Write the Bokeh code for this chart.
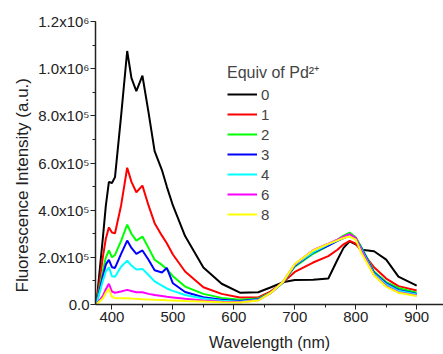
from bokeh.plotting import figure
from bokeh.models import SingleIntervalTicker, Legend, LegendItem, Range1d, Title
from bokeh.embed import file_html
from bokeh.resources import INLINE

wavelength = [375, 385, 390, 395, 400, 405, 415, 425, 432, 440, 450, 460, 470, 482, 490,
              500, 520, 550, 580, 610, 640, 660, 680, 700, 730, 755, 770, 780, 790, 800,
              810, 830, 850, 870, 900]

equiv_labels = ["0", "1", "2", "3", "4", "6", "8"]
colors = ["#000000", "#FF0000", "#00FF00", "#0000FF", "#00FFFF", "#FF00FF", "#FFFF00"]

eq0 = [15e3, 280e3, 420e3, 520e3, 515e3, 540e3, 800e3, 1075e3, 960e3, 905e3, 970e3, 815e3, 650e3, 570e3, 500e3,
       420e3, 290e3, 157e3, 88e3, 50e3, 52e3, 72e3, 94e3, 104e3, 105e3, 110e3, 190e3, 240e3, 268e3, 255e3,
       232e3, 226e3, 190e3, 118e3, 80e3]
eq1 = [10e3, 200e3, 280e3, 327e3, 305e3, 302e3, 420e3, 580e3, 520e3, 476e3, 504e3, 420e3, 345e3, 292e3, 260e3,
       212e3, 140e3, 73e3, 45e3, 30e3, 30e3, 55e3, 92e3, 138e3, 178e3, 205e3, 232e3, 255e3, 270e3, 258e3,
       225e3, 158e3, 110e3, 78e3, 59e3]
eq2 = [8e3, 140e3, 200e3, 229e3, 200e3, 210e3, 270e3, 339e3, 300e3, 271e3, 288e3, 240e3, 190e3, 168e3, 150e3,
       120e3, 76e3, 45e3, 28e3, 20e3, 25e3, 50e3, 92e3, 160e3, 215e3, 250e3, 275e3, 292e3, 305e3, 285e3,
       240e3, 140e3, 95e3, 70e3, 50e3]
eq3 = [7e3, 120e3, 170e3, 189e3, 158e3, 155e3, 215e3, 271e3, 240e3, 215e3, 229e3, 190e3, 145e3, 136e3, 155e3,
       90e3, 53e3, 31e3, 20e3, 15e3, 22e3, 48e3, 92e3, 165e3, 220e3, 250e3, 270e3, 282e3, 292e3, 280e3,
       235e3, 135e3, 90e3, 62e3, 45e3]
eq4 = [6e3, 100e3, 140e3, 158e3, 120e3, 118e3, 160e3, 186e3, 165e3, 148e3, 151e3, 125e3, 98e3, 80e3, 68e3,
       58e3, 40e3, 25e3, 16e3, 12e3, 20e3, 48e3, 92e3, 168e3, 222e3, 255e3, 272e3, 285e3, 295e3, 280e3,
       230e3, 130e3, 85e3, 58e3, 42e3]
eq6 = [3e3, 35e3, 65e3, 88e3, 55e3, 50e3, 55e3, 62e3, 57e3, 52e3, 52e3, 45e3, 40e3, 36e3, 33e3,
       30e3, 24e3, 17e3, 12e3, 10e3, 18e3, 48e3, 94e3, 170e3, 230e3, 258e3, 275e3, 288e3, 298e3, 282e3,
       225e3, 125e3, 78e3, 52e3, 38e3]
eq8 = [2e3, 25e3, 50e3, 66e3, 32e3, 28e3, 27e3, 27e3, 25e3, 24e3, 22e3, 21e3, 20e3, 19e3, 18e3,
       17e3, 15e3, 13e3, 10e3, 8e3, 17e3, 48e3, 94e3, 172e3, 229e3, 257e3, 272e3, 282e3, 288e3, 275e3,
       215e3, 123e3, 75e3, 50e3, 36e3]
series = [eq0, eq1, eq2, eq3, eq4, eq6, eq8]

y_ticks = [0, 200000, 400000, 600000, 800000, 1000000, 1200000]
y_tick_labels = ["0.0", "2.0x10\u2075", "4.0x10\u2075", "6.0x10\u2075", "8.0x10\u2075",
                 "1.0x10\u2076", "1.2x10\u2076"]

p = figure(frame_width=348, frame_height=283, output_backend="svg", toolbar_location=None,
           x_range=Range1d(373, 944), y_range=Range1d(0, 1.2e6),
           min_border_left=95, min_border_right=0, min_border_top=21, min_border_bottom=49)
p.outline_line_color = None
p.xgrid.visible = False
p.ygrid.visible = False
p.background_fill_color = "white"

items = []
for lab, col, ys in zip(equiv_labels, colors, series):
    r = p.line(wavelength, ys, line_color=col, line_width=2)
    items.append(LegendItem(label=lab, renderers=[r]))

p.xaxis.ticker = SingleIntervalTicker(interval=100, num_minor_ticks=2)
p.yaxis.ticker = SingleIntervalTicker(interval=200000, num_minor_ticks=2)
p.yaxis.major_label_overrides = {t: l for t, l in zip(y_ticks, y_tick_labels)}

for ax in (p.xaxis[0], p.yaxis[0]):
    ax.axis_line_color = "#222222"
    ax.axis_line_width = 1.5
    ax.major_tick_line_color = "#222222"
    ax.minor_tick_line_color = "#222222"
    ax.major_tick_in = 0
    ax.major_tick_out = 5
    ax.minor_tick_in = 0
    ax.minor_tick_out = 3
    ax.major_label_text_font = "Liberation Sans"
    ax.major_label_text_font_size = "15px"
    ax.major_label_text_color = "#222222"
    ax.axis_label_text_font = "Liberation Sans"
    ax.axis_label_text_font_style = "normal"
    ax.axis_label_text_color = "#222222"

p.xaxis.major_label_standoff = 2
p.yaxis.major_label_standoff = 1
p.xaxis.axis_label = "Wavelength (nm)"
p.xaxis.axis_label_text_font_size = "16px"
p.xaxis.axis_label_standoff = 9

ytitle = Title(text="Fluorescence Intensity (a.u.)", align="left", offset=12,
               text_font="Liberation Sans", text_font_size="17px",
               text_font_style="normal", text_color="#222222", standoff=8)
p.add_layout(ytitle, "left")

legend = Legend(items=items, location=(132, 80), title="Equiv of Pd\u00b2\u207a",
                title_text_font="Liberation Sans", title_text_font_size="16px",
                title_text_font_style="normal", title_standoff=1,
                label_text_font="Liberation Sans", label_text_font_size="15px",
                glyph_width=30, glyph_height=20, label_height=20, spacing=0,
                label_standoff=4, padding=0, margin=0,
                border_line_color=None, background_fill_alpha=0)
p.add_layout(legend, "center")

open("out.html", "w").write(file_html(p, INLINE))
